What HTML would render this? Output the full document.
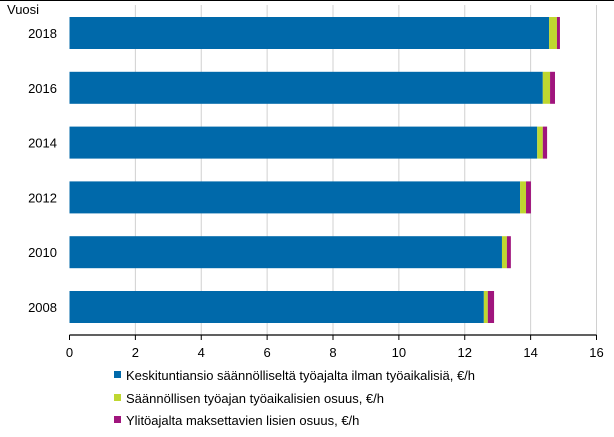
<!DOCTYPE html>
<html><head><meta charset="utf-8"><style>
body{margin:0;background:#fff;font-family:"Liberation Sans",sans-serif}
svg text{font-family:"Liberation Sans",sans-serif;font-size:13px;fill:#000}
</style></head><body>
<svg id="c" width="614" height="432">
<line x1="0" y1="0.5" x2="614" y2="0.5" stroke="#000"/>
<g id="grid"></g><g id="bars"></g><g id="axis"></g>
<text x="7" y="14">Vuosi</text>
<g>
<rect x="114" y="371" width="7" height="7" fill="#0069aa"/>
<text x="126" y="380">Keskituntiansio  säännölliseltä  työajalta  ilman työaikalisiä,  €/h</text>
<rect x="114" y="394" width="7" height="7" fill="#bfd730"/>
<text x="126" y="403">Säännöllisen  työajan  työaikalisien  osuus, €/h</text>
<rect x="114" y="416" width="7" height="7" fill="#a0157d"/>
<text x="126" y="425">Ylitöajalta  maksettavien  lisien osuus, €/h</text>
</g>
</svg>
<script>
const years=["2018","2016","2014","2012","2010","2008"];
const base=[14.56,14.37,14.2,13.68,13.13,12.58];
const shift=[0.24,0.22,0.17,0.18,0.15,0.12];
const overtime=[0.09,0.15,0.13,0.15,0.12,0.19];
const ticks=[0,2,4,6,8,10,12,14,16];
const NS="http://www.w3.org/2000/svg";
const x=v=>69.5+v*(527/16);
const y0=17,step=54.8,bh=32;
function mk(t,a,p){const e=document.createElementNS(NS,t);for(const k in a)e.setAttribute(k,a[k]);document.getElementById(p).appendChild(e);return e;}
ticks.forEach(t=>{
 if(t>0){const g=mk("line",{x1:x(t),x2:x(t),y1:5,y2:335,stroke:"#d0d0d0"},"grid");
 
 }
 const tk=mk("line",{x1:x(t),x2:x(t),y1:335,y2:340,stroke:"#000"},"axis");
 
 
 const l=mk("text",{x:x(t),y:357,"text-anchor":"middle"},"axis");l.textContent=t;
 
 
});
const ax=mk("line",{x1:x(0),x2:x(16),y1:335,y2:335,stroke:"#000","stroke-width":1.3},"axis");


const series=[[base,"#0069aa","base"],[shift,"#bfd730","shift"],[overtime,"#a0157d","overtime"]];
years.forEach((yr,i)=>{
 const yy=y0+i*step;let acc=0;
 series.forEach(([arr,col,nm])=>{
  const r=mk("rect",{x:x(acc),y:yy,width:x(acc+arr[i])-x(acc),height:bh,fill:col},"bars");
  
  
  acc+=arr[i];
 });
 const l=mk("text",{x:57,y:yy+bh/2+5,"text-anchor":"end"},"axis");l.textContent=yr;
 
 
});
</script>
</body></html>
